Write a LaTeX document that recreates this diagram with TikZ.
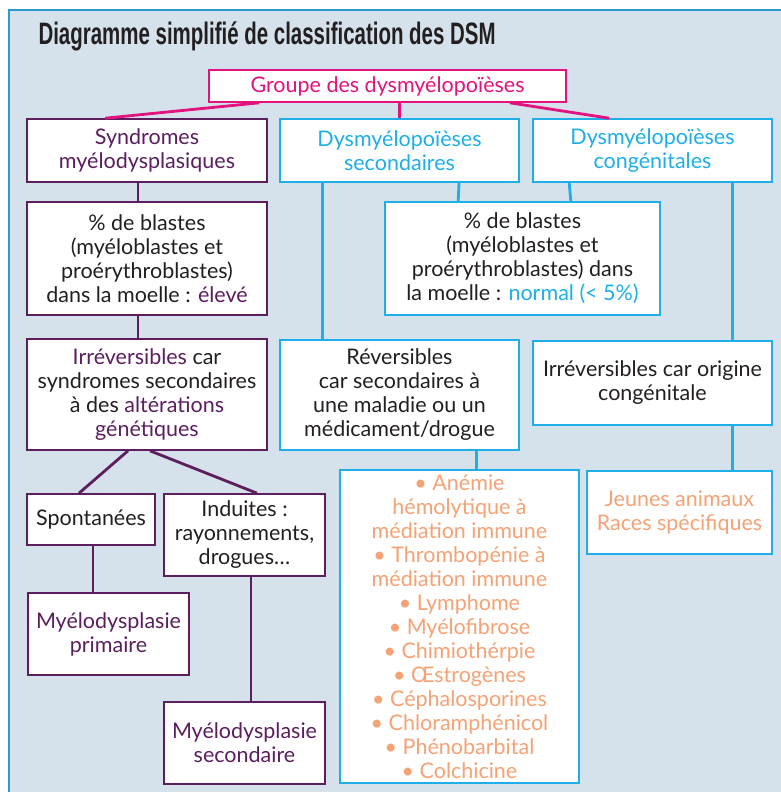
\documentclass[tikz,border=0pt]{standalone}
\usepackage{fontspec}
\usepackage{graphicx}
\setmainfont{Lato}
\newfontfamily\titlefont{Liberation Sans}
\usetikzlibrary{positioning}
\definecolor{DsmPanel}{HTML}{D5E2EB}
\definecolor{DsmFrame}{HTML}{2C9AD1}
\definecolor{DsmMagenta}{HTML}{E2127E}
\definecolor{DsmPurple}{HTML}{5C1E5F}
\definecolor{DsmCyan}{HTML}{1EAEE8}
\definecolor{DsmOrange}{HTML}{F5A274}
\definecolor{DsmInk}{HTML}{231F20}
\newcommand{\mdstext}[1]{\textcolor{DsmPurple}{#1}}
\newcommand{\sectext}[1]{\textcolor{DsmCyan}{#1}}

\begin{document}
\begin{tikzpicture}[x=1pt,y=-1pt,font=\fontsize{21.5}{24}\selectfont,
 box/.style={draw,fill=white,line width=1.6pt,align=center,inner sep=2pt,text=DsmInk},
 grpbox/.style={box,draw=DsmMagenta,text=DsmMagenta},
 mdsbox/.style={box,draw=DsmPurple},
 secbox/.style={box,draw=DsmCyan},
 grpline/.style={DsmMagenta,line width=2.8pt},
 mdsline/.style={DsmPurple,line width=2.8pt},
 secline/.style={DsmCyan,line width=2.8pt}]
\useasboundingbox (0,0) rectangle (780,792);
\fill[white] (0,0) rectangle (780,792);
\fill[DsmPanel] (9,10) rectangle (800,800);
\draw[DsmFrame,line width=1.2pt] (9,800) -- (9,10) -- (800,10);
\node[anchor=base west,font=\titlefont\bfseries\fontsize{31}{34}\selectfont,text=DsmInk] (title) at (35,45) {\scalebox{0.66}[1]{Diagramme simplifié de classification des DSM}};

\node[grpbox,minimum width=357pt,minimum height=32pt] (grp) at (387.5,86) {Groupe des dysmyélopoïèses};
\node[mdsbox,text=DsmPurple,minimum width=240pt,minimum height=63pt] (mds) at (147,150.5) {Syndromes\\myélodysplasiques};
\node[secbox,text=DsmCyan,minimum width=239pt,minimum height=63pt] (sec) at (399.5,150.5) {Dysmyélopoïèses\\secondaires};
\node[secbox,text=DsmCyan,minimum width=239pt,minimum height=63pt] (cong) at (652.5,150.5) {Dysmyélopoïèses\\congénitales};

\node[mdsbox,minimum width=240pt,minimum height=113pt] (blL) at (147,258.5) {\% de blastes\\(myéloblastes et\\proérythroblastes)\\dans la moelle : \mdstext{élevé}};
\node[secbox,minimum width=275pt,minimum height=113pt] (blR) at (522.5,258.5) {\% de blastes\\(myéloblastes et\\proérythroblastes) dans\\la moelle : \sectext{normal (< 5\%)}};

\node[mdsbox,minimum width=240pt,minimum height=111pt] (irr) at (147,394.5) {\mdstext{Irréversibles} car\\syndromes secondaires\\à des \mdstext{altérations}\\\mdstext{génétiques}};
\node[secbox,minimum width=239pt,minimum height=110pt] (rev) at (399.5,395) {Réversibles\\car secondaires à\\une maladie ou un\\médicament/drogue};
\node[secbox,minimum width=239pt,minimum height=84pt] (irc) at (652.5,383) {Irréversibles car origine\\congénitale};

\node[mdsbox,minimum width=128pt,minimum height=51pt] (spo) at (91,519.5) {Spontanées};
\node[mdsbox,minimum width=161pt,minimum height=82pt] (ind) at (244.5,535) {Induites :\\rayonnements,\\drogues…};
\node[mdsbox,text=DsmPurple,minimum width=161pt,minimum height=82pt] (mdp) at (108.5,634) {Myélodysplasie\\primaire};
\node[mdsbox,text=DsmPurple,minimum width=161pt,minimum height=82pt] (mdsec) at (244.5,743) {Myélodysplasie\\secondaire};

\node[secbox,text=DsmOrange,minimum width=239pt,minimum height=313pt] (lst) at (459.5,626.5) {\textbullet{} Anémie\\hémolytique à\\médiation immune\\\textbullet{} Thrombopénie à\\médiation immune\\\textbullet{} Lymphome\\\textbullet{} Myélofibrose\\\textbullet{} Chimiothérpie\\\textbullet{} Œstrogènes\\\textbullet{} Céphalosporines\\\textbullet{} Chloramphénicol\\\textbullet{} Phénobarbital\\\textbullet{} Colchicine};
\node[secbox,text=DsmOrange,minimum width=185pt,minimum height=83pt] (jeu) at (679.5,512.5) {Jeunes animaux\\Races spécifiques};

\draw[grpline] ([xshift=51pt]grp.south west) -- ([xshift=79pt]mds.north west);
\draw[grpline] (grp.south -| sec.north) -- (sec.north);
\draw[grpline] ([xshift=-57pt]grp.south east) -- ([xshift=77pt]cong.north west);
\draw[mdsline] ([xshift=-9pt]mds.south) -- ([xshift=-9pt]blL.north);
\draw[mdsline] ([xshift=-9pt]blL.south) -- ([xshift=-9pt]irr.north);
\draw[secline] ([xshift=59.5pt]sec.south) -- ([xshift=74pt]blR.north west);
\draw[secline] ([xshift=37pt]cong.south west) -- ([xshift=-90pt]blR.north east);
\draw[secline] ([xshift=43pt]sec.south west) -- ([xshift=43pt]rev.north west);
\draw[secline] ([xshift=-40pt]cong.south east) -- ([xshift=-40pt]irc.north east);
\draw[secline] ([xshift=-40pt]irc.south east) -- ([xshift=-40pt]jeu.north east);
\draw[secline] ([xshift=197pt]rev.south west) -- ([xshift=137pt]lst.north west);
\draw[mdsline] ([xshift=-19pt]irr.south) -- ([xshift=-12pt]spo.north);
\draw[mdsline] ([xshift=3pt]irr.south) -- ([xshift=12.5pt]ind.north);
\draw[mdsline] ([xshift=2pt]spo.south) -- ([xshift=-15.5pt]mdp.north);
\draw[mdsline] ([xshift=6.5pt]ind.south) -- ([xshift=6.5pt]mdsec.north);
\end{tikzpicture}
\end{document}
